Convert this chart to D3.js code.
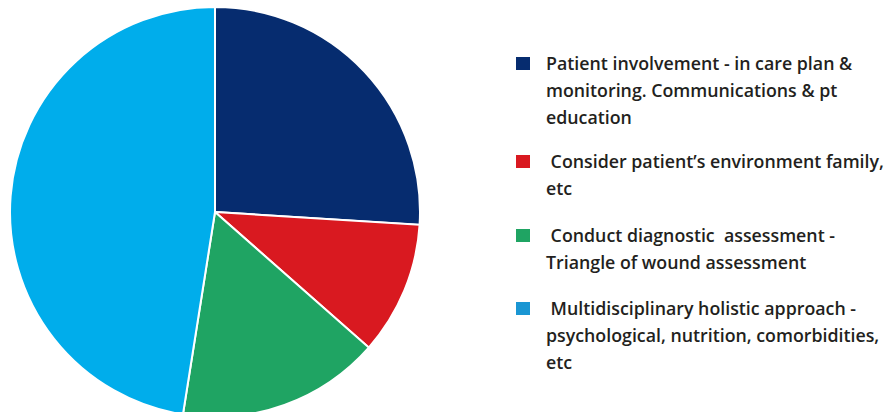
<!DOCTYPE html>
<html>
<head>
<meta charset="utf-8">
<script src="https://cdn.jsdelivr.net/npm/d3@7"></script>
<style>
  body { margin: 0; background: #fff; }
  svg { display: block; }
</style>
</head>
<body>
<div class="chart"></div>
<script>
// data //
let labels = [
  ['Patient involvement - in care plan &', 'monitoring. Communications & pt', 'education'],
  [' Consider patient\u2019s environment family,', 'etc'],
  [' Conduct diagnostic  assessment -', 'Triangle of wound assessment'],
  [' Multidisciplinary holistic approach -', 'psychological, nutrition, comorbidities,', 'etc']
];
let values = [26, 10.5, 16, 47.5];
let colors = ['#062c6f', '#d91920', '#1fa463', '#00adeb'];
let legendColors = ['#062c6f', '#d91920', '#1fa463', '#1a96d3'];

// sizes //
let w = 894;
let h = 412;
let r = 205;
let cx = 215;
let cy = 212;

let svg = d3.select('.chart')
  .append('svg')
  .attr('width', w)
  .attr('height', h);

let pie = d3.pie().sort(null).value(d => d);
let arc = d3.arc().innerRadius(0).outerRadius(r);

svg.append('g')
  .attr('transform', `translate(${cx}, ${cy})`)
  .selectAll('path')
  .data(pie(values))
  .enter()
  .append('path')
  .attr('d', arc)
  .attr('fill', (d, i) => colors[i])
  .attr('stroke', '#fff')
  .attr('stroke-width', 2);

// legend //
let firstLine = [63, 161, 235, 308];
let lineH = 27;

let legend = svg.append('g');

labels.forEach((lines, i) => {
  legend.append('rect')
    .attr('x', 516)
    .attr('y', firstLine[i] - 6)
    .attr('width', 14)
    .attr('height', 13)
    .attr('fill', legendColors[i]);

  let t = legend.append('text')
    .attr('x', 546)
    .attr('y', firstLine[i])
    .attr('dominant-baseline', 'central')
    .style('font-family', '"Open Sans", sans-serif')
    .style('font-weight', 600)
    .style('font-size', '17.8px')
    .style('fill', '#231f20')
    .style('white-space', 'pre');

  lines.forEach((line, j) => {
    t.append('tspan')
      .attr('x', 546)
      .attr('dy', j === 0 ? 0 : lineH)
      .text(line);
  });
});
</script>
</body>
</html>
